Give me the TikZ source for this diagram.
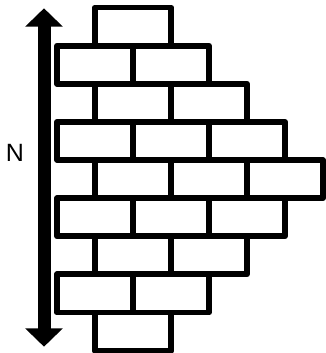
\documentclass[tikz,border=0pt]{standalone}
\usepackage{fontspec}
\setmainfont{Liberation Sans}
\usetikzlibrary{arrows.meta}
\begin{document}
\begin{tikzpicture}[x=1pt,y=-1pt,
  brick/.style={draw=black,line width=5.8pt,line join=round,fill=white},
  bigarrow/.style={line width=13pt,{Triangle[width=36.7pt,length=18.4pt]}-{Triangle[width=36.7pt,length=18.4pt]}}]
\useasboundingbox (0,0) rectangle (325,353);
% rows: row index, start x, number of bricks
\foreach \r/\sx/\n in {1/95/1,2/57/2,3/95/2,4/57/3,5/95/3,6/57/3,7/95/2,8/57/2,9/95/1}{
  \foreach \k in {1,...,\n}{
    \draw[brick] ({\sx+(\k-1)*76},{7.5+(\r-1)*38.125}) rectangle ++(76,38.125);
  }
}
\coordinate (top) at (44,8.3);
\coordinate (bot) at (44,346.7);
\draw[bigarrow] (top) -- (bot);
\node[font=\fontsize{25}{25}\selectfont,inner sep=0pt] (N) at (15,152.5) {N};
\end{tikzpicture}
\end{document}
